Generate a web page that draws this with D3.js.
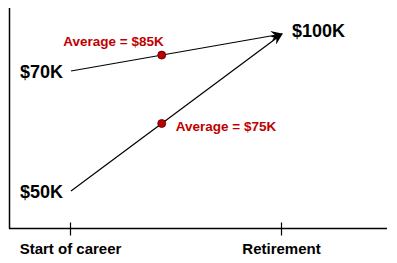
<!DOCTYPE html>
<html>
<head>
<meta charset="utf-8">
<script src="https://cdn.jsdelivr.net/npm/d3@7"></script>
<style>
  body { margin: 0; background: #fff; }
  svg { display: block; font-family: "Liberation Sans", Arial, sans-serif; }
</style>
</head>
<body>
<svg width="397" height="263"></svg>
<script>
// career stages on the x axis
var stages = ["Start of career", "Retirement"];
// salary paths, $K
var startSalaries = [70, 50];
var endSalary = 100;
var averages = [85, 75];

var svg = d3.select("svg");

var x = d3.scalePoint()
  .domain(stages)
  .range([71, 282]);

// schematic, not to scale
var y = d3.scaleLinear()
  .domain([50, 70, 100])
  .range([191, 71, 34]);

var fmt = function(v) { return "$" + v + "K"; };

// arrow marker
svg.append("defs").append("marker")
  .attr("id", "arrow")
  .attr("viewBox", "0 0 12 10")
  .attr("refX", 11)
  .attr("refY", 5)
  .attr("markerWidth", 12)
  .attr("markerHeight", 10)
  .attr("markerUnits", "userSpaceOnUse")
  .attr("orient", "auto")
  .append("path")
  .attr("d", "M0,0 L12,5 L0,10 L4,5 Z")
  .attr("fill", "#000");

// axes
svg.append("line")
  .attr("x1", 9.5).attr("x2", 9.5)
  .attr("y1", 8).attr("y2", 228.5)
  .attr("stroke", "#000").attr("stroke-width", 1.5);
svg.append("line")
  .attr("x1", 9).attr("x2", 387)
  .attr("y1", 228.5).attr("y2", 228.5)
  .attr("stroke", "#000").attr("stroke-width", 1.5);

var xAxis = svg.append("g")
  .attr("transform", "translate(-1,228.5)")
  .call(d3.axisBottom(x).tickSize(7).tickSizeOuter(0));
xAxis.select(".domain").remove();
xAxis.selectAll(".tick line")
  .attr("y1", -6)
  .attr("stroke-width", 1.2);
xAxis.selectAll(".tick text")
  .attr("y", 25)
  .attr("dy", 0)
  .attr("font-family", "Liberation Sans, Arial, sans-serif")
  .attr("font-size", 15)
  .attr("font-weight", "bold")
  .attr("fill", "#000");

var t = 0.43;
var paths = startSalaries.map(function(s, i) {
  var x0 = x(stages[0]), x1 = x(stages[1]);
  var y0 = y(s), y1 = y(endSalary);
  return {
    start: s, avg: averages[i],
    x0: x0, y0: y0, x1: x1, y1: y1,
    dx: x0 + (x1 - x0) * t,
    dy: y0 + (y1 - y0) * t
  };
});

svg.selectAll(".path")
  .data(paths)
  .enter()
  .append("line")
  .attr("class", "path")
  .attr("x1", function(d) { return d.x0; })
  .attr("y1", function(d) { return d.y0; })
  .attr("x2", function(d) { return d.x1; })
  .attr("y2", function(d) { return d.y1; })
  .attr("stroke", "#000")
  .attr("stroke-width", 1.2)
  .attr("marker-end", "url(#arrow)");

svg.selectAll(".start-label")
  .data(paths)
  .enter()
  .append("text")
  .attr("class", "start-label")
  .attr("x", function(d) { return d.x0 - 8; })
  .attr("y", function(d) { return d.y0 + 6.5; })
  .attr("text-anchor", "end")
  .attr("font-size", 18)
  .attr("font-weight", "bold")
  .text(function(d) { return fmt(d.start); });

svg.append("text")
  .attr("x", x(stages[1]) + 10)
  .attr("y", y(endSalary) + 2.5)
  .attr("font-size", 18)
  .attr("font-weight", "bold")
  .text(fmt(endSalary));

svg.selectAll(".dot")
  .data(paths)
  .enter()
  .append("circle")
  .attr("class", "dot")
  .attr("cx", function(d) { return d.dx; })
  .attr("cy", function(d) { return d.dy; })
  .attr("r", 4)
  .attr("fill", "#c00000")
  .attr("stroke", "#400")
  .attr("stroke-width", 0.8);

svg.selectAll(".avg-label")
  .data(paths)
  .enter()
  .append("text")
  .attr("class", "avg-label")
  .attr("x", function(d, i) { return i === 0 ? d.dx + 2 : d.dx + 14; })
  .attr("y", function(d, i) { return i === 0 ? d.dy - 9.5 : d.dy + 7.5; })
  .attr("text-anchor", function(d, i) { return i === 0 ? "end" : "start"; })
  .attr("font-size", 13.5)
  .attr("font-weight", "bold")
  .attr("fill", "#c00000")
  .text(function(d) { return "Average = " + fmt(d.avg); });
</script>
</body>
</html>
